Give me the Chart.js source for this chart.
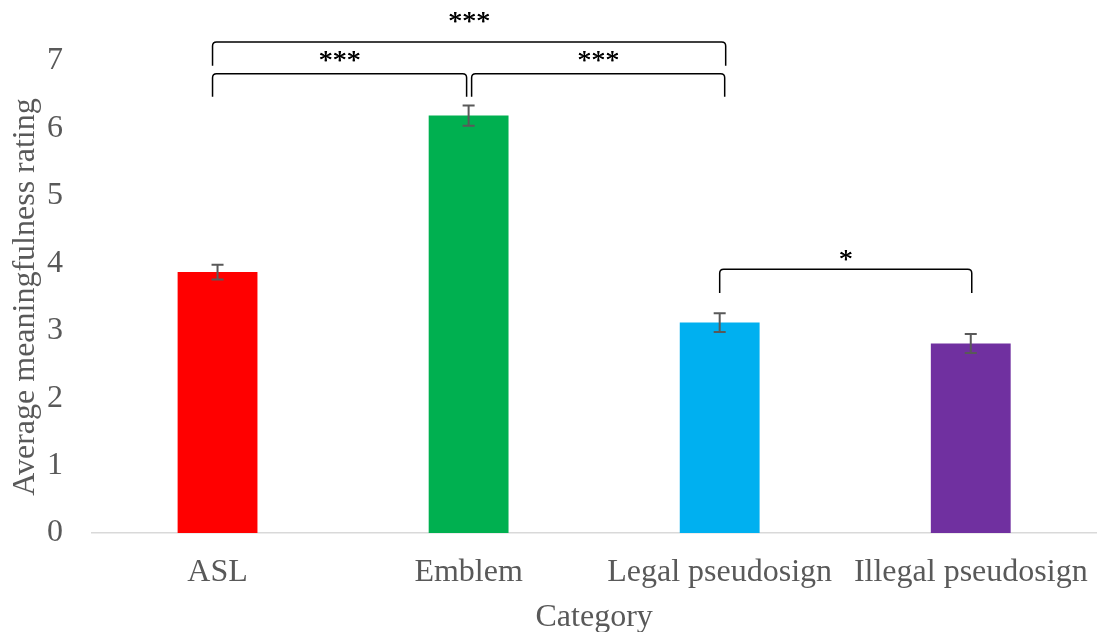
<!DOCTYPE html>
<html>
<head>
<meta charset="utf-8">
<script src="https://cdn.jsdelivr.net/npm/chart.js@4/dist/chart.umd.min.js"></script>
<style>
  html, body { margin: 0; padding: 0; background: #ffffff; }
  #wrap { width: 1109px; height: 632px; position: relative; }
</style>
</head>
<body>
<div id="wrap"><canvas id="c"></canvas></div>
<script>
// Category means with their error bars
const categories = ['ASL', 'Emblem', 'Legal pseudosign', 'Illegal pseudosign'];
const means = [3.87, 6.19, 3.12, 2.81];
const errors = [0.11, 0.15, 0.14, 0.14];
const barColors = ['#FF0000', '#00B050', '#00B0F0', '#7030A0'];
const yTicks = [0, 1, 2, 3, 4, 5, 6, 7];

// Significance brackets between categories
const bracketFrom = [0, 1, 0, 2];
const bracketTo = [1, 2, 2, 3];
const bracketTop = [6.81, 6.81, 7.28, 3.91];
const bracketLeg = [6.47, 6.47, 6.93, 3.56];
const bracketLabel = ['***', '***', '***', '*'];
const bracketLabelAt = [7.06, 7.06, 7.65, 4.12];

const SERIF = '"Liberation Serif", "Times New Roman", serif';
const GRAY = '#595959';

const errorBarPlugin = {
  id: 'errorBars',
  afterDatasetsDraw(chart) {
    const ctx = chart.ctx;
    const y = chart.scales.y;
    const meta = chart.getDatasetMeta(0);
    ctx.save();
    ctx.strokeStyle = GRAY;
    ctx.lineWidth = 2;
    meta.data.forEach((bar, i) => {
      const x = bar.x;
      const yHi = y.getPixelForValue(means[i] + errors[i]);
      const yLo = y.getPixelForValue(means[i] - errors[i]);
      ctx.beginPath();
      ctx.moveTo(x, yHi); ctx.lineTo(x, yLo);
      ctx.moveTo(x - 6, yHi); ctx.lineTo(x + 6, yHi);
      ctx.moveTo(x - 6, yLo); ctx.lineTo(x + 6, yLo);
      ctx.stroke();
    });
    ctx.restore();
  }
};

const bracketPlugin = {
  id: 'brackets',
  afterDatasetsDraw(chart) {
    const ctx = chart.ctx;
    const xs = chart.scales.x;
    const ys = chart.scales.y;
    // small horizontal nudges so neighbouring brackets do not touch
    const startNudge = [-5, 3, -5, 0];
    const endNudge = [-2, 5, 6, 1];
    ctx.save();
    ctx.strokeStyle = '#000000';
    ctx.lineWidth = 1.5;
    ctx.fillStyle = '#000000';
    ctx.font = '28px ' + SERIF;
    ctx.textAlign = 'center';
    ctx.textBaseline = 'alphabetic';
    const r = 4;
    for (let i = 0; i < bracketFrom.length; i++) {
      const x1 = xs.getPixelForValue(bracketFrom[i]) + startNudge[i];
      const x2 = xs.getPixelForValue(bracketTo[i]) + endNudge[i];
      const yt = ys.getPixelForValue(bracketTop[i]);
      const yl = ys.getPixelForValue(bracketLeg[i]);
      ctx.beginPath();
      ctx.moveTo(x1, yl);
      ctx.lineTo(x1, yt + r);
      ctx.quadraticCurveTo(x1, yt, x1 + r, yt);
      ctx.lineTo(x2 - r, yt);
      ctx.quadraticCurveTo(x2, yt, x2, yt + r);
      ctx.lineTo(x2, yl);
      ctx.stroke();
      // centre the glyphs vertically on the label position
      const m = ctx.measureText(bracketLabel[i]);
      const yc = ys.getPixelForValue(bracketLabelAt[i]);
      const base = yc + (m.actualBoundingBoxAscent - m.actualBoundingBoxDescent) / 2;
      ctx.fillText(bracketLabel[i], (x1 + x2) / 2, base);
      // a second pass slightly offset gives the asterisks a heavier stroke
      ctx.fillText(bracketLabel[i], (x1 + x2) / 2 + 0.4, base);
    }
    ctx.restore();
  }
};

new Chart(document.getElementById('c'), {
  type: 'bar',
  data: {
    labels: categories,
    datasets: [{
      data: means,
      backgroundColor: barColors,
      borderWidth: 0,
      barPercentage: 0.318,
      categoryPercentage: 1.0
    }]
  },
  options: {
    responsive: true,
    maintainAspectRatio: false,
    animation: false,
    layout: { padding: { top: 61, left: 6, right: 11, bottom: 0 } },
    plugins: {
      legend: { display: false },
      tooltip: { enabled: false }
    },
    scales: {
      x: {
        afterFit(scale) { scale.height = 99; },
        grid: { display: false, drawTicks: false },
        border: { display: true, color: '#D9D9D9', width: 1.5 },
        ticks: { color: GRAY, padding: 20, font: { family: SERIF, size: 32 }, maxRotation: 0, autoSkip: false },
        title: { display: true, text: 'Category', color: GRAY, padding: { top: 0, bottom: 0 }, font: { family: SERIF, size: 32, lineHeight: 0.88 } }
      },
      y: {
        min: 0,
        max: 7,
        afterBuildTicks(scale) { scale.ticks = yTicks.map(v => ({ value: v })); },
        afterFit(scale) { scale.width = 86; },
        grid: { display: false, drawTicks: false },
        border: { display: false },
        ticks: { color: GRAY, padding: 29, font: { family: SERIF, size: 32 } },
        title: { display: true, text: 'Average meaningfulness rating', color: GRAY, padding: { top: 0, bottom: 0 }, font: { family: SERIF, size: 32 } }
      }
    }
  },
  plugins: [errorBarPlugin, bracketPlugin]
});
</script>
</body>
</html>
